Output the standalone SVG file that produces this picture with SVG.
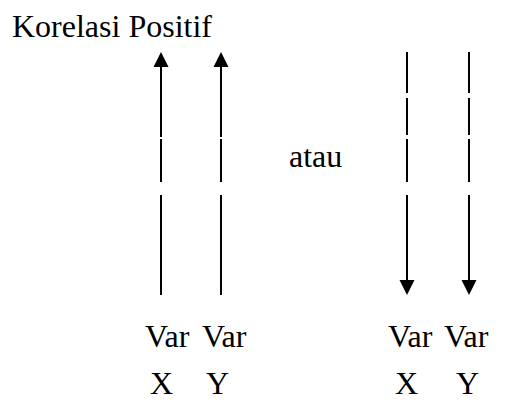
<svg xmlns="http://www.w3.org/2000/svg" width="516" height="405" viewBox="0 0 516 405">
<style>
text{font-family:"Liberation Serif","Times New Roman",serif;font-size:32px;fill:#000}
.ln{stroke:#000;stroke-width:2;fill:none}
.hd{fill:#000}
</style>
<rect width="516" height="405" fill="#fff"/>
<text id="title" x="12" y="37">Korelasi Positif</text>
<text id="atau" x="289" y="167">atau</text>
<g id="connectors">
<path class="ln" d="M161,66V137M161,139V182M161,195V295"/>
<polygon class="hd" points="161,52 153.5,67 168.5,67"/>
<path class="ln" d="M221,66V137M221,139V182M221,195V295"/>
<polygon class="hd" points="221,52 213.5,67 228.5,67"/>
<path class="ln" d="M407,52V93M407,98V135M407,139V182M407,195V281"/>
<polygon class="hd" points="407,295 399.5,280 414.5,280"/>
<path class="ln" d="M469,52V93M469,98V135M469,139V182M469,195V281"/>
<polygon class="hd" points="469,295 461.5,280 476.5,280"/>
</g>
<g id="n1"><text x="145" y="347">Var</text><text x="150" y="394">X</text></g>
<g id="n2"><text x="202" y="347">Var</text><text x="206" y="394">Y</text></g>
<g id="n3"><text x="388" y="347">Var</text><text x="395" y="394">X</text></g>
<g id="n4"><text x="444" y="347">Var</text><text x="456" y="394">Y</text></g>
</svg>
